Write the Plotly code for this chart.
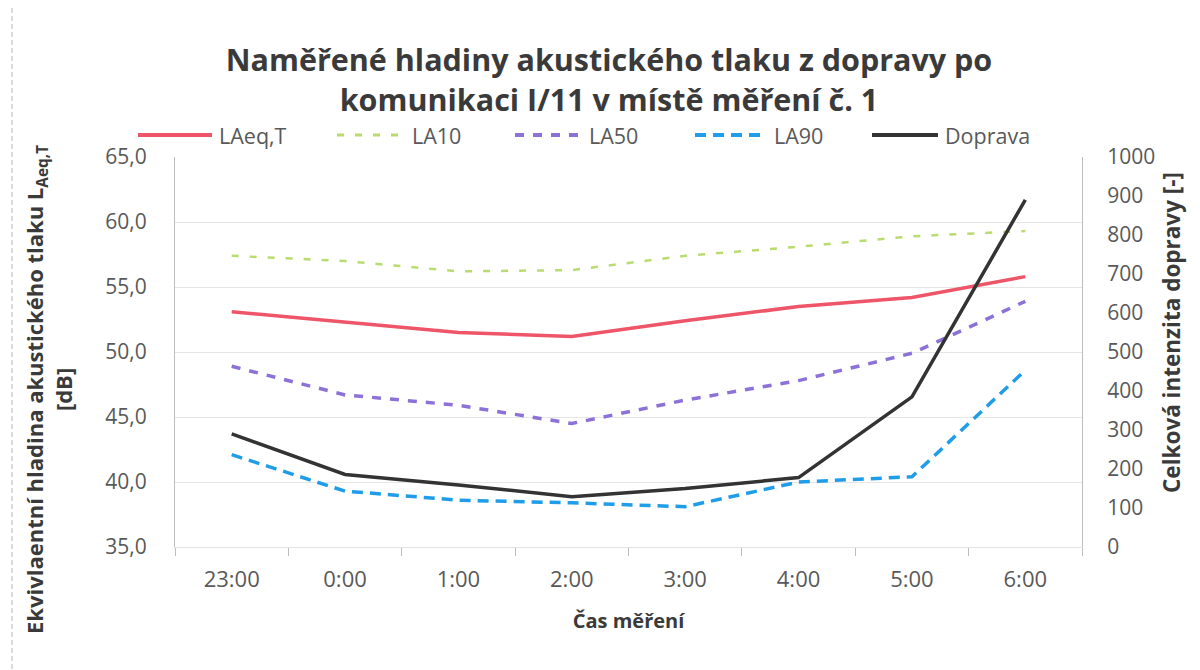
import plotly.graph_objects as go

categories = ["23:00", "0:00", "1:00", "2:00", "3:00", "4:00", "5:00", "6:00"]
laeq = [53.1, 52.3, 51.5, 51.2, 52.4, 53.5, 54.2, 55.8]
la10 = [57.4, 57.0, 56.2, 56.3, 57.4, 58.1, 58.9, 59.3]
la50 = [48.9, 46.7, 45.9, 44.5, 46.3, 47.8, 49.9, 53.9]
la90 = [42.1, 39.3, 38.6, 38.4, 38.1, 40.0, 40.4, 48.6]
doprava = [290, 186, 159, 129, 150, 178, 385, 890]

series_names = ["LAeq,T", "LA10", "LA50", "LA90", "Doprava"]
series_colors = ["#ef5568", "#b9dc70", "#8c72d8", "#1f9de8", "#333333"]
series_widths = [3.5, 2.5, 3.5, 3.5, 3.5]
series_dash = ["solid", "7px,11px", "9px,9px", "11px,7px", "solid"]

FONT = "Open Sans"
GRAY = "#595959"
DARK = "#3a3a3a"

# the page adds an 8px body margin; reference pixel positions are shifted by it
OFF = 8
# plot area in reference pixels
L, R, T, B = 175, 1082, 157, 547
PW, PH = R - L, B - T


def px(x):
    return (x - L) / PW


def py(y):
    return (B - y) / PH


fig = go.Figure()
values = [laeq, la10, la50, la90, doprava]
for i, (nm, vals) in enumerate(zip(series_names, values)):
    fig.add_trace(go.Scatter(
        x=categories, y=vals, name=nm, mode="lines",
        yaxis="y2" if nm == "Doprava" else "y",
        line=dict(color=series_colors[i], width=series_widths[i], dash=series_dash[i]),
        showlegend=False))

fig.update_layout(
    width=1200, height=670,
    paper_bgcolor="white", plot_bgcolor="white",
    separators=", ",
    font=dict(family=FONT, size=21, color=GRAY),
    margin=dict(l=L - OFF, r=1200 - (R - OFF), t=T - OFF, b=670 - (B - OFF)),
    title=dict(text="Naměřené hladiny akustického tlaku z dopravy po<br>komunikaci I/11 v místě měření č. 1",
               x=(609 - OFF) / 1200, xref="container", xanchor="center",
               y=1 - 63 / 670, yref="container", yanchor="middle",
               font=dict(family=FONT, size=30.5, color=DARK, weight="bold")),
    xaxis=dict(range=[-0.5, 7.5], showgrid=False, showline=True, linecolor="#e2e2e2", linewidth=1,
               ticks="outside", tickson="boundaries", ticklen=8, tickcolor="#bdbdbd",
               tickfont=dict(size=22, color=GRAY), ticklabelstandoff=13,
               title=dict(text="Čas měření", font=dict(size=20, color=DARK, weight="bold"),
                          standoff=21)),
    yaxis=dict(range=[35, 65], dtick=5, tickformat=".1f",
               showgrid=True, gridcolor="#e6e6e6", gridwidth=1,
               showline=True, linecolor="#bdbdbd", linewidth=1,
               ticks="", tickfont=dict(size=21, color=GRAY), ticklabelstandoff=23,
               zeroline=False),
    yaxis2=dict(range=[0, 1000], dtick=100, tickformat="d", overlaying="y", side="right",
                showgrid=False, showline=True, linecolor="#bdbdbd", linewidth=1,
                ticks="", tickfont=dict(size=21, color=GRAY), ticklabelstandoff=20,
                zeroline=False),
    showlegend=False,
)

# legend drawn as layout shapes + texts (long sample lines as in the reference)
leg_y = py(135)
leg_line_x = [(138, 212), (337, 405), (515, 582), (695, 767), (872, 938)]
for i, (x0, x1) in enumerate(leg_line_x):
    fig.add_shape(type="line", xref="paper", yref="paper",
                  x0=px(x0), x1=px(x1), y0=leg_y, y1=leg_y,
                  line=dict(color=series_colors[i], width=series_widths[i] + 0.5,
                            dash=series_dash[i]))
    fig.add_annotation(text=series_names[i], xref="paper", yref="paper",
                       x=px(x1 + 5), y=leg_y, xanchor="left", yanchor="middle",
                       showarrow=False, font=dict(family=FONT, size=21.5, color=GRAY))

fig.add_annotation(text="Ekvivlaentní hladina akustického tlaku L<sub>Aeq,T</sub><br>[dB]",
                   xref="paper", yref="paper", x=px(48), y=py(390),
                   xanchor="center", yanchor="middle", textangle=-90, showarrow=False,
                   font=dict(family=FONT, size=22, color=DARK, weight="bold"))
fig.add_annotation(text="Celková intenzita dopravy [-]",
                   xref="paper", yref="paper", x=px(1171), y=py(333),
                   xanchor="center", yanchor="middle", textangle=-90, showarrow=False,
                   font=dict(family=FONT, size=22.5, color=DARK, weight="bold"))

# faint scanned page border on the left
fig.add_shape(type="line", xref="paper", yref="paper", x0=px(12), x1=px(12),
              y0=py(0), y1=py(670), line=dict(color="#b8b8b8", width=1, dash="5px,3px"))

fig.write_html("out.html")
